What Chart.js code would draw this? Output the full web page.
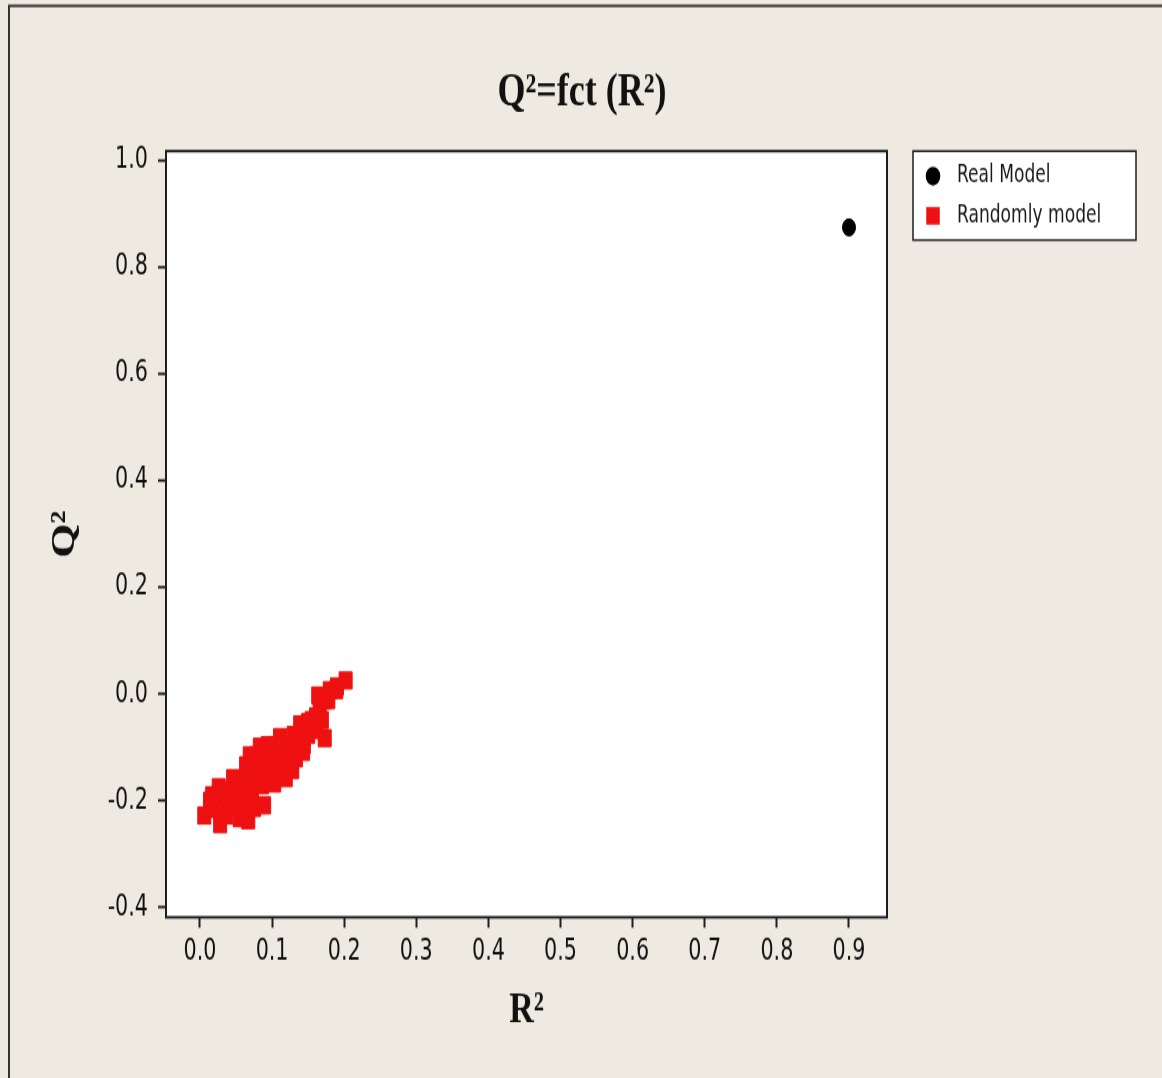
<!DOCTYPE html>
<html>
<head>
<meta charset="utf-8">
<title>Q²=fct (R²)</title>
<script src="https://cdn.jsdelivr.net/npm/chart.js@4.4.1/dist/chart.umd.min.js"></script>
<style>
    html, body { margin: 0; padding: 0; background: #eeeae1; overflow: hidden; }
    #wrap { width: 1162px; height: 1078px; position: relative; }
    #qChart { position: absolute; left: 0; top: 0; transform-origin: 0 0; }
</style>
</head>
<body>
<div id="wrap"><canvas id="qChart" width="1162" height="829"></canvas></div>
<script>
// the original picture is stretched vertically, so the canvas is too
const STRETCH = 1078 / 829;

const chartTitle = 'Q²=fct (R²)';
const xTitle = 'R²';
const yTitle = 'Q²';

const realLabel = 'Real Model';
const realR2 = [0.900];
const realQ2 = [0.874];

const randLabel = 'Randomly model';
const randR2 = [0.006, 0.018, 0.028, 0.036, 0.028, 0.026, 0.039, 0.046, 0.050, 0.055,
                0.067, 0.061, 0.064, 0.067, 0.072, 0.079, 0.080, 0.086, 0.089, 0.094,
                0.094, 0.100, 0.103, 0.111, 0.114, 0.116, 0.125, 0.128, 0.130, 0.133,
                0.141, 0.144, 0.143, 0.155, 0.161, 0.164, 0.166, 0.173, 0.172, 0.180,
                0.190, 0.202, 0.139, 0.161, 0.017, 0.069, 0.083, 0.014, 0.044, 0.055,
                0.060, 0.078, 0.075, 0.086, 0.105, 0.108, 0.119, 0.122, 0.136, 0.150,
                0.150, 0.104, 0.086, 0.072, 0.036, 0.169, 0.178, 0.189];
const randQ2 = [-0.228, -0.216, -0.244, -0.228, -0.194, -0.175, -0.199, -0.158, -0.181, -0.233,
                -0.237, -0.209, -0.134, -0.162, -0.190, -0.115, -0.143, -0.171, -0.209, -0.096,
                -0.124, -0.153, -0.168, -0.081, -0.109, -0.134, -0.096, -0.143, -0.077, -0.121,
                -0.059, -0.096, -0.109, -0.049, -0.068, -0.003, -0.027, -0.083, -0.012, 0.007,
                0.014, 0.025, -0.057, -0.042, -0.190, -0.115, -0.099, -0.200, -0.209, -0.190,
                -0.166, -0.166, -0.214, -0.143, -0.124, -0.146, -0.158, -0.113, -0.087, -0.077,
                -0.053, -0.096, -0.115, -0.139, -0.181, -0.049, -0.012, 0.007];

const xTicks = [0.0, 0.1, 0.2, 0.3, 0.4, 0.5, 0.6, 0.7, 0.8, 0.9];
const yTicks = [-0.4, -0.2, 0.0, 0.2, 0.4, 0.6, 0.8, 1.0];

const BG = '#eeeae1';
const INK = '#1e1e1e';
const RED = '#ee1111';
const TICK_FONT = { family: "'DejaVu Sans Condensed', 'DejaVu Sans', sans-serif", size: 23 };
const SERIF_BOLD = { family: "'Liberation Serif', 'Times New Roman', serif", size: 34, weight: 'bold' };

function toPoints(xs, ys) {
    return xs.map((x, i) => ({ x: x, y: ys[i] }));
}

const framePlugin = {
    id: 'frame',
    beforeDraw(chart) {
        const { ctx, chartArea: a } = chart;
        ctx.save();
        ctx.fillStyle = BG;
        ctx.fillRect(0, 0, chart.width, chart.height);
        ctx.fillStyle = '#ffffff';
        ctx.fillRect(a.left, a.top, a.right - a.left, a.bottom - a.top);
        // outer border, only left and top show in the original
        ctx.strokeStyle = '#333333';
        ctx.lineWidth = 2;
        ctx.beginPath();
        ctx.moveTo(9, chart.height + 5);
        ctx.lineTo(9, 4.6);
        ctx.lineTo(chart.width + 5, 4.6);
        ctx.stroke();
        ctx.restore();
    },
    afterDraw(chart) {
        const { ctx, chartArea: a } = chart;
        ctx.save();
        ctx.strokeStyle = INK;
        ctx.lineWidth = 2;
        ctx.strokeRect(a.left, a.top, a.right - a.left, a.bottom - a.top);

        ctx.fillStyle = '#111111';
        ctx.font = `bold 36px ${SERIF_BOLD.family}`;
        ctx.textAlign = 'center';
        ctx.textBaseline = 'middle';
        ctx.fillText(chartTitle, 582, 71.5);

        // legend box
        const lx = 913, ly = 116.2, lw = 223, lh = 68.4;
        ctx.fillStyle = '#ffffff';
        ctx.fillRect(lx, ly, lw, lh);
        ctx.strokeStyle = INK;
        ctx.lineWidth = 1.5;
        ctx.strokeRect(lx, ly, lw, lh);
        const rows = [135.4, 166];
        ctx.font = `19px ${TICK_FONT.family}`;
        ctx.textAlign = 'left';
        chart.data.datasets.forEach((ds, i) => {
            ctx.fillStyle = ds.backgroundColor;
            ctx.strokeStyle = ds.borderColor;
            Chart.helpers.drawPoint(ctx, {
                pointStyle: ds.pointStyle,
                radius: ds.pointStyle === 'rect' ? 8.5 : 6.5,
                borderWidth: 1,
                rotation: 0
            }, 933, rows[i]);
            ctx.fillStyle = '#1a1a1a';
            ctx.fillText(ds.label, 957, rows[i]);
        });
        ctx.restore();
    }
};

function initChart() {
    const canvas = document.getElementById('qChart');
    canvas.style.transform = `scaleY(${STRETCH})`;
    const ctx = canvas.getContext('2d');
    new Chart(ctx, {
        type: 'scatter',
        data: {
            datasets: [{
                label: realLabel,
                data: toPoints(realR2, realQ2),
                pointStyle: 'circle',
                pointRadius: 6.5,
                backgroundColor: '#000000',
                borderColor: '#000000',
                borderWidth: 1
            }, {
                label: randLabel,
                data: toPoints(randR2, randQ2),
                pointStyle: 'rect',
                pointRadius: 9.2,
                backgroundColor: RED,
                borderColor: RED,
                borderWidth: 1
            }]
        },
        options: {
            responsive: false,
            animation: false,
            devicePixelRatio: 1,
            layout: { padding: { left: 0, top: 116.2, right: 275, bottom: 0 } },
            plugins: {
                legend: { display: false },
                title: { display: false },
                tooltip: { enabled: false }
            },
            scales: {
                x: {
                    type: 'linear',
                    min: -0.0471,
                    max: 0.9527,
                    afterBuildTicks: axis => { axis.ticks = xTicks.map(v => ({ value: v })); },
                    afterFit: axis => { axis.height = 829 - 705.4; },
                    border: { display: false },
                    grid: { drawOnChartArea: false, drawTicks: true, tickLength: 8, tickColor: INK, tickWidth: 2 },
                    ticks: {
                        color: '#111111',
                        font: TICK_FONT,
                        padding: 5,
                        maxRotation: 0,
                        callback: v => v.toFixed(1)
                    },
                    title: {
                        display: true,
                        text: xTitle,
                        color: '#111111',
                        font: SERIF_BOLD,
                        padding: { top: 0, bottom: 31 }
                    }
                },
                y: {
                    type: 'linear',
                    min: -0.4187,
                    max: 1.0169,
                    afterBuildTicks: axis => { axis.ticks = yTicks.map(v => ({ value: v })); },
                    afterFit: axis => { axis.width = 166; },
                    border: { display: false },
                    grid: { drawOnChartArea: false, drawTicks: true, tickLength: 8, tickColor: INK, tickWidth: 2 },
                    ticks: {
                        color: '#111111',
                        font: TICK_FONT,
                        padding: 10,
                        callback: v => v.toFixed(1)
                    },
                    title: {
                        display: true,
                        text: yTitle,
                        color: '#111111',
                        font: SERIF_BOLD,
                        padding: { top: 45, bottom: 0 }
                    }
                }
            }
        },
        plugins: [framePlugin]
    });
}

document.addEventListener('DOMContentLoaded', function() {
    initChart();
});
</script>
</body>
</html>
